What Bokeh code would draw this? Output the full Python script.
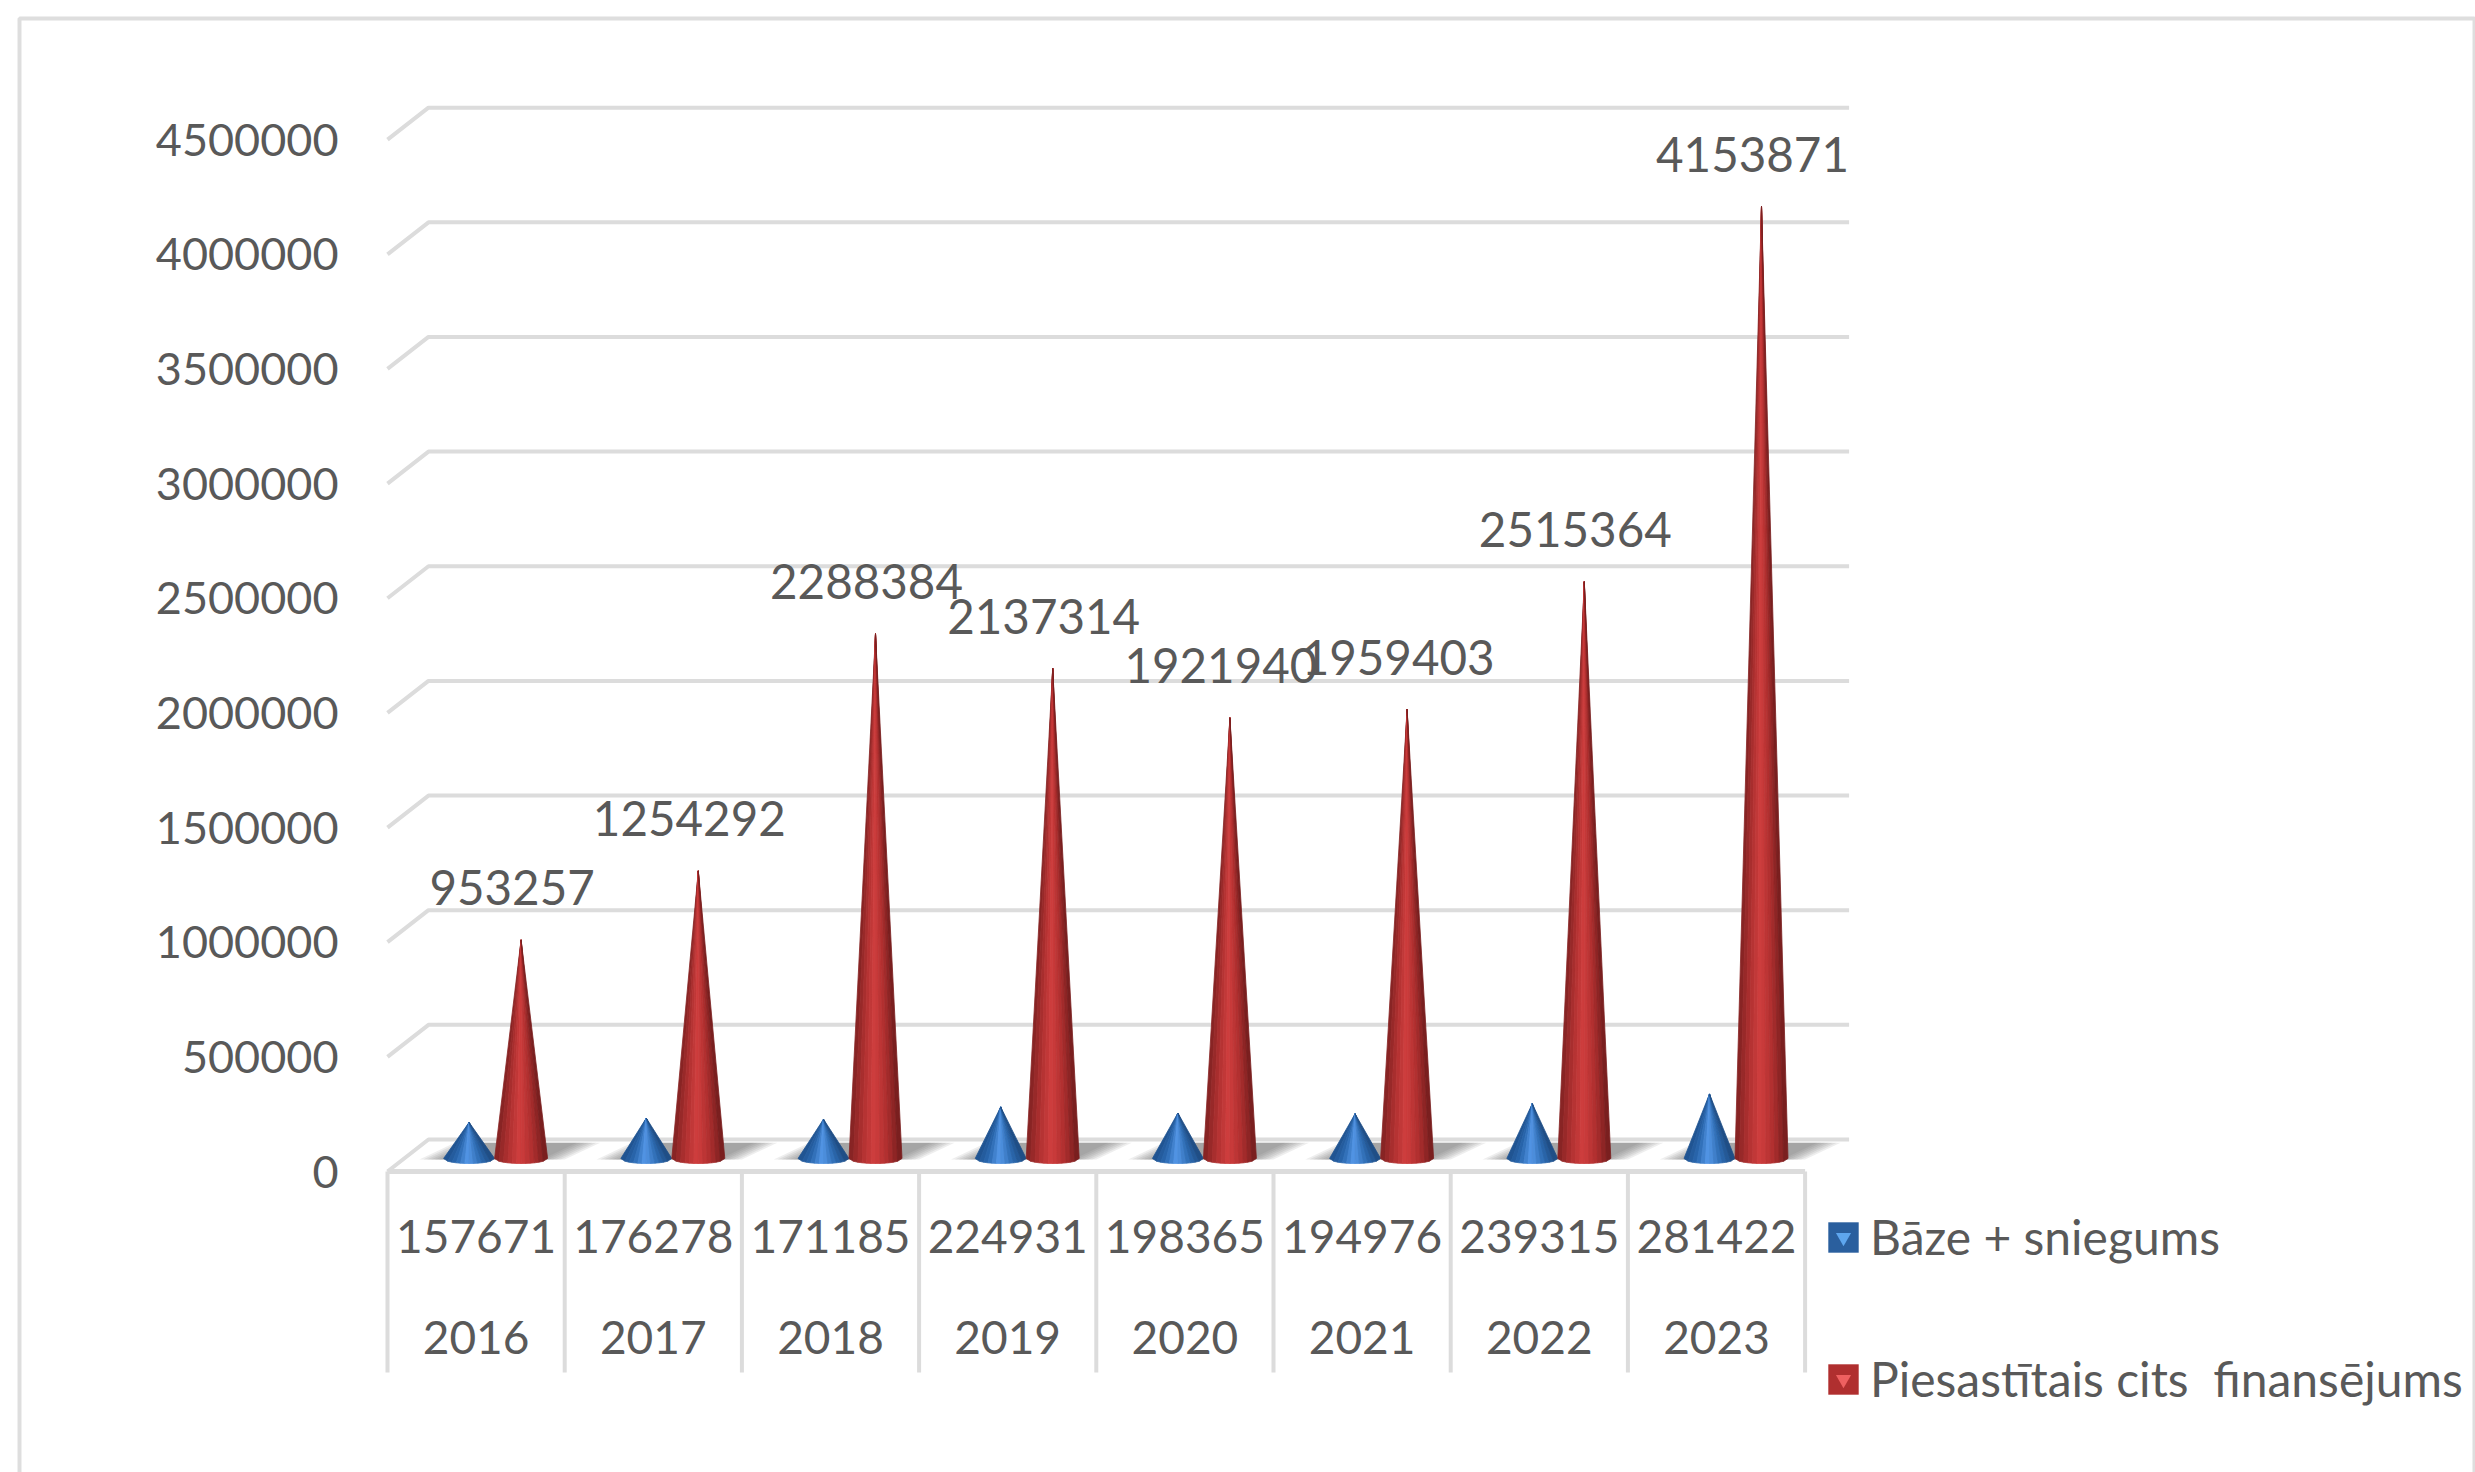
from bokeh.plotting import figure
from bokeh.models import (FixedTicker, LinearAxis, Range1d, Legend, LegendItem, ColumnDataSource)
from bokeh.core.properties import value
from bokeh.embed import file_html
from bokeh.resources import INLINE

years = ["2016", "2017", "2018", "2019", "2020", "2021", "2022", "2023"]
baze = [157671, 176278, 171185, 224931, 198365, 194976, 239315, 281422]
cits = [953257, 1254292, 2288384, 2137314, 1921940, 1959403, 2515364, 4153871]
y_ticks = [0, 500000, 1000000, 1500000, 2000000, 2500000, 3000000, 3500000, 4000000, 4500000]
name_a = "Bāze + sniegums"
name_b = "Piesastītais cits  finansējums"

FONT = "Lato"
FS = "45px"
FS_LABEL = "47.5px"
FS_CAT = "46px"
TXT = "#595959"
GRID = "#dcdcdc"

W, H = 2475, 1472
MARGIN = 0
CAT_PX = 177.2      # pixels per category
VAL_PX = 229.3e-6   # pixels per value unit
X0_PX, Y0_PX = 387, 1171   # window position of the front origin
DX_PX, DY_PX = 41, 32      # depth of the floor

x_start = -0.5 - (X0_PX - MARGIN) / CAT_PX
y_end = (Y0_PX - MARGIN) / VAL_PX
def X(px):
    return x_start + (px - MARGIN) / CAT_PX
def Y(px):
    return y_end - (px - MARGIN) / VAL_PX

p = figure(width=W, height=H, output_backend="svg", toolbar_location=None,
           x_range=Range1d(x_start, x_start + W / CAT_PX),
           y_range=Range1d(y_end - H / VAL_PX, y_end),
           min_border=0, outline_line_color=None, x_axis_type=None, y_axis_type=None)
p.grid.visible = False

n = len(years)
ddx, ddy = DX_PX / CAT_PX, DY_PX / VAL_PX
left, right = -0.5, n - 0.5

# outer chart border
p.multi_line([[X(19), X(19), X(2474), X(2474)]], [[Y(1472), Y(18), Y(18), Y(1472)]],
             line_color="#dedede", line_width=4)

# back wall gridlines with their left diagonals
p.multi_line([[left, left + ddx, right + ddx + 3.0 / CAT_PX] for _ in y_ticks],
             [[t, t + ddy, t + ddy] for t in y_ticks],
             line_color=GRID, line_width=4)

# floor shadows
SH_BASE = 12 / VAL_PX
for i in range(n):
    for k in range(7):
        shrink = k * 0.022
        x0, x1 = i - 0.32 + shrink, i + 0.50 - shrink
        p.patch([x0, x1, x1 + 0.20, x0 + 0.20],
                [SH_BASE, SH_BASE, ddy * 0.9, ddy * 0.9],
                fill_color="#555555", fill_alpha=0.10, line_color=None)

# front axis line and separators of the two-row category table
bottom_v = Y(1372)
p.segment([left], [0], [right], [0], line_color=GRID, line_width=5)
p.segment([left + k for k in range(n + 1)], [0] * (n + 1),
          [left + k for k in range(n + 1)], [bottom_v] * (n + 1),
          line_color=GRID, line_width=4)

# cones, shaded by narrow strips
def shade(stops, t):
    for (a, ca), (b, cb) in zip(stops, stops[1:]):
        if a <= t <= b:
            f = (t - a) / (b - a)
            return "#%02x%02x%02x" % tuple(round(ca[j] + (cb[j] - ca[j]) * f) for j in range(3))
    return "#000000"

BLUE = [(0, (30, 80, 140)), (0.25, (42, 104, 176)), (0.48, (84, 152, 232)), (0.75, (44, 106, 176)), (1, (28, 72, 126))]
RED = [(0, (128, 34, 34)), (0.25, (176, 48, 48)), (0.48, (208, 62, 62)), (0.75, (172, 46, 46)), (1, (112, 28, 28))]

BASE = 13 / VAL_PX
def cone(values, offset_px, width_px, stops):
    xs, ys, cols = [], [], []
    m = 12
    half = width_px / 2 / CAT_PX
    ell = 5 / VAL_PX
    for i, v in enumerate(values):
        xc = i + offset_px / CAT_PX
        for s in range(m):
            t0, t1 = s / m, (s + 1) / m
            y0 = BASE - ell * (1 - (2 * t0 - 1) ** 2) ** 0.5
            y1 = BASE - ell * (1 - (2 * t1 - 1) ** 2) ** 0.5
            xs.append([xc, xc + half * (2 * t0 - 1), xc + half * (2 * t1 - 1)])
            ys.append([BASE + v, y0, y1])
            cols.append(shade(stops, (t0 + t1) / 2))
    return p.patches(xs, ys, fill_color=cols, line_color=cols, line_width=0.8)

BLUE_OFF, RED_OFF = -7, 45
cone(baze, BLUE_OFF, 51, BLUE)
cone(cits, RED_OFF, 53, RED)

# data labels above the red cones
src = ColumnDataSource(dict(x=[i + RED_OFF / CAT_PX for i in range(n)],
                            y=[v + BASE for v in cits],
                            t=[str(v) for v in cits]))
p.text("x", "y", text="t", source=src, text_font=value(FONT), text_font_size=FS_LABEL,
       text_color=TXT, text_align="center", text_baseline="middle",
       x_offset=-9, y_offset=-52)

# axes
yax = LinearAxis(ticker=FixedTicker(ticks=y_ticks), fixed_location=left)
yax.major_label_overrides = {t: str(t) for t in y_ticks}
yax.axis_line_color = None
yax.major_tick_line_color = None
yax.minor_tick_line_color = None
yax.major_label_standoff = 43
yax.major_label_text_font = FONT
yax.major_label_text_font_size = FS
yax.major_label_text_color = TXT
p.add_layout(yax, "left")

def row_axis(labels, standoff):
    ax = LinearAxis(ticker=FixedTicker(ticks=list(range(n))), fixed_location=0)
    ax.major_label_overrides = {i: str(labels[i]) for i in range(n)}
    ax.axis_line_color = None
    ax.major_tick_line_color = None
    ax.minor_tick_line_color = None
    ax.major_label_standoff = standoff
    ax.major_label_text_font = FONT
    ax.major_label_text_font_size = FS_CAT
    ax.major_label_text_color = TXT
    p.add_layout(ax, "below")

row_axis(baze, 42)
row_axis(years, 143)

# legend (swatch renderers hold one point outside the visible range)
OUT = x_start - 10
qa = p.quad(left=[OUT], right=[OUT], top=[0], bottom=[0], fill_color="#2a5f9e", line_color=None)
qb = p.quad(left=[OUT], right=[OUT], top=[0], bottom=[0], fill_color="#b02f2f", line_color=None)
ta = p.scatter(x=[OUT], y=[0], marker="inverted_triangle", size=20, fill_color="#5ea6ee", line_color=None)
tb = p.scatter(x=[OUT], y=[0], marker="inverted_triangle", size=20, fill_color="#ee6060", line_color=None)
legend = Legend(items=[LegendItem(label=name_a, renderers=[qa, ta]),
                       LegendItem(label=name_b, renderers=[qb, tb])],
                location=(1824, 65), orientation="vertical",
                background_fill_alpha=0, border_line_color=None,
                glyph_width=38, glyph_height=38, spacing=85, label_standoff=8,
                label_text_font=FONT, label_text_font_size="48px", label_text_color=TXT,
                label_height=40, padding=0, margin=0)
p.add_layout(legend, "center")

open("out.html", "w").write(file_html(p, INLINE))
